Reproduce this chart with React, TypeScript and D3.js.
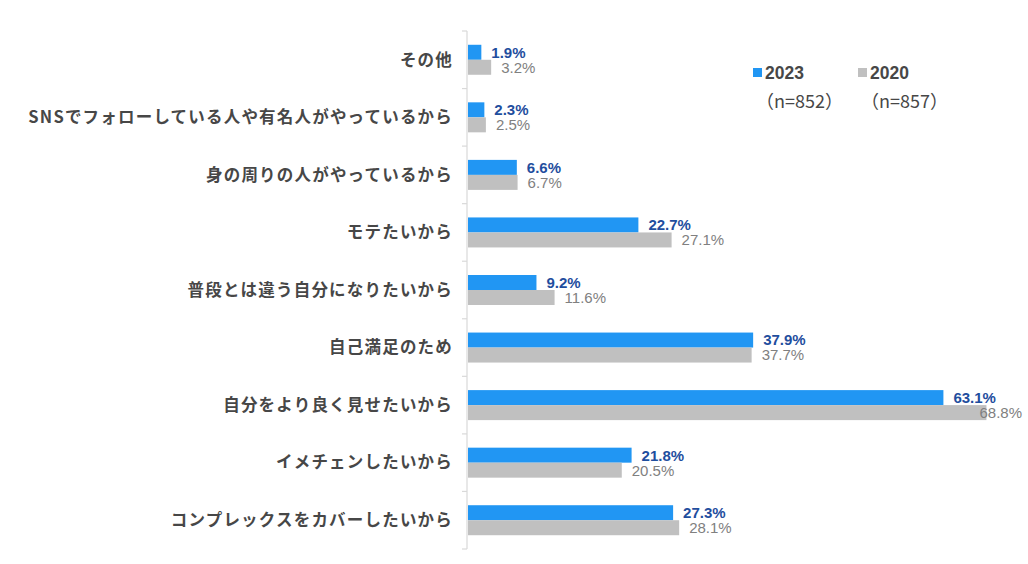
import { useEffect, useRef } from 'react'
import * as d3 from 'd3'

const categories = [
  'その他',
  'SNSでフォローしている人や有名人がやっているから',
  '身の周りの人がやっているから',
  'モテたいから',
  '普段とは違う自分になりたいから',
  '自己満足のため',
  '自分をより良く見せたいから',
  'イメチェンしたいから',
  'コンプレックスをカバーしたいから',
]
const values2023 = [1.9, 2.3, 6.6, 22.7, 9.2, 37.9, 63.1, 21.8, 27.3]
const values2020 = [3.2, 2.5, 6.7, 27.1, 11.6, 37.7, 68.8, 20.5, 28.1]
const seriesNames = ['2023', '2020']
const seriesN = ['（n=852）', '（n=857）']

const width = 1028
const height = 564

export default function App() {
  const svgRef = useRef<SVGSVGElement>(null)

  useEffect(() => {
    if (!svgRef.current) return
    const svg = d3.select(svgRef.current)
    svg.selectAll('*').remove()

    const axisX = 467
    const top = 31
    const bottom = 549

    const x = d3.scaleLinear().domain([0, 70]).range([axisX, axisX + 70 * 7.55])
    const y = d3.scaleBand().domain(categories).range([top, bottom])
    const barH = 15
    const colors = ['#2196f3', '#c0c0c0']
    const labelColors = ['#1f4e9e', '#808080']
    const cjkFont = '"Noto Sans CJK JP", "Noto Sans", sans-serif'
    const numFont = '"Liberation Sans", Arial, sans-serif'

    // axis with ticks at category boundaries
    const g = svg.append('g')
    g.append('line')
      .attr('x1', axisX).attr('x2', axisX)
      .attr('y1', top).attr('y2', bottom)
      .attr('stroke', '#d9d9d9').attr('stroke-width', 1.2)
    const bounds = d3.range(categories.length + 1).map((i) => top + i * y.step())
    g.selectAll('line.tick')
      .data(bounds)
      .join('line')
      .attr('class', 'tick')
      .attr('x1', axisX - 5).attr('x2', axisX)
      .attr('y1', (d) => d).attr('y2', (d) => d)
      .attr('stroke', '#d9d9d9').attr('stroke-width', 1.2)

    // category labels
    g.selectAll('text.cat')
      .data(categories)
      .join('text')
      .attr('class', 'cat')
      .attr('x', 453)
      .attr('y', (d) => y(d)! + y.bandwidth() / 2)
      .attr('dy', '0.35em')
      .attr('text-anchor', 'end')
      .style('font-family', cjkFont)
      .style('font-size', '16.5px')
      .style('font-weight', '700')
      .style('letter-spacing', '1.2px')
      .style('fill', '#474747')
      .text((d) => d)

    const series = [values2023, values2020]
    series.forEach((vals, si) => {
      const rows = categories.map((c, i) => ({ c, v: vals[i] }))
      const yOff = (c: string) => y(c)! + y.bandwidth() / 2 - barH + si * barH

      g.selectAll(`rect.s${si}`)
        .data(rows)
        .join('rect')
        .attr('class', `s${si}`)
        .attr('x', axisX + 1)
        .attr('y', (d) => yOff(d.c))
        .attr('width', (d) => x(d.v) - axisX - 1)
        .attr('height', barH)
        .attr('fill', colors[si])

      g.selectAll(`text.l${si}`)
        .data(rows)
        .join('text')
        .attr('class', `l${si}`)
        .attr('x', (d) => x(d.v) + 10)
        .attr('y', (d) => yOff(d.c) + barH / 2)
        .attr('dy', '0.36em')
        .style('font-family', numFont)
        .style('font-size', '15px')
        .style('font-weight', si === 0 ? '700' : '400')
        .style('fill', labelColors[si])
        .text((d) => `${d.v.toFixed(1)}%`)
        .each(function () {
          // keep labels inside the chart, like the original does
          const el = this as SVGTextElement
          const w = el.getComputedTextLength()
          const cur = +el.getAttribute('x')!
          if (cur + w > width - 6) el.setAttribute('x', String(width - 6 - w))
        })
    })

    // legend
    const legendX = [753, 858]
    seriesNames.forEach((name, i) => {
      const lg = svg.append('g')
      lg.append('rect')
        .attr('x', legendX[i]).attr('y', 68)
        .attr('width', 9).attr('height', 9)
        .attr('fill', colors[i])
      lg.append('text')
        .attr('x', legendX[i] + 12).attr('y', 73)
        .attr('dy', '0.36em')
        .style('font-family', numFont)
        .style('font-size', '17.5px')
        .style('font-weight', '700')
        .style('fill', '#474747')
        .text(name)
      lg.append('text')
        .attr('x', legendX[i] + 3).attr('y', 102)
        .attr('dy', '0.36em')
        .style('font-family', cjkFont)
        .style('font-size', '18px')
        .style('fill', '#474747')
        .text(seriesN[i])
    })
  }, [])

  return (
    <svg
      ref={svgRef}
      width={width}
      height={height}
      style={{ position: 'absolute', left: 0, top: 0, background: '#fff' }}
    />
  )
}
